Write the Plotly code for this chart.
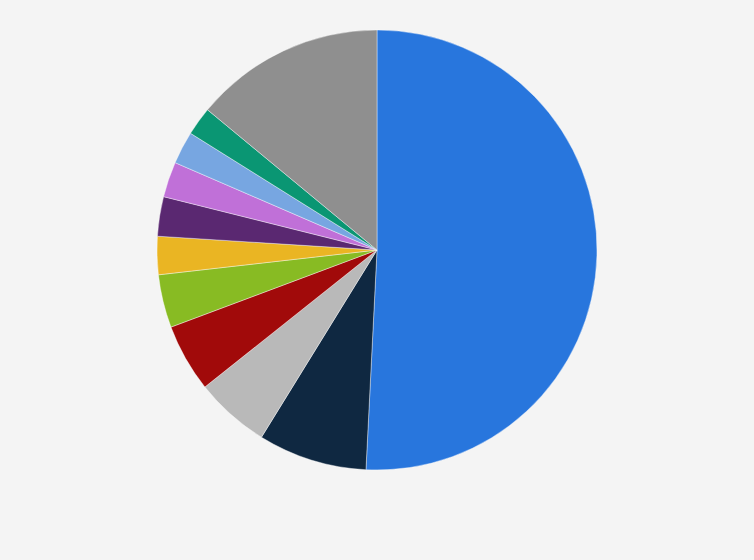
import plotly.graph_objects as go

categories = ["Category 1", "Category 2", "Category 3", "Category 4", "Category 5",
              "Category 6", "Category 7", "Category 8", "Category 9", "Category 10", "Other"]
values = [50.8, 8.0, 5.5, 5.0, 3.9, 2.8, 2.9, 2.6, 2.4, 2.1, 14.0]
colors = ["#2876dd", "#0f2841", "#b9b9b9", "#a10a0a", "#88bb23", "#eab523",
          "#5a2871", "#c070d8", "#77a6e1", "#0a9673", "#8f8f8f"]

fig = go.Figure(go.Pie(
    labels=categories,
    values=values,
    sort=False,
    direction="clockwise",
    rotation=0,
    textinfo="none",
    hoverinfo="label+percent",
    marker=dict(colors=colors, line=dict(color="#ffffff", width=0.4)),
))
fig.update_layout(
    width=754, height=560,
    margin=dict(l=0, r=0, t=30, b=90),
    paper_bgcolor="#f4f4f4",
    plot_bgcolor="#f4f4f4",
    showlegend=False,
)
fig.write_html(
    "out.html",
    config={"displayModeBar": False},
    post_script="document.body.style.margin='0';document.body.style.background='#f4f4f4';document.body.style.overflow='hidden';",
)
